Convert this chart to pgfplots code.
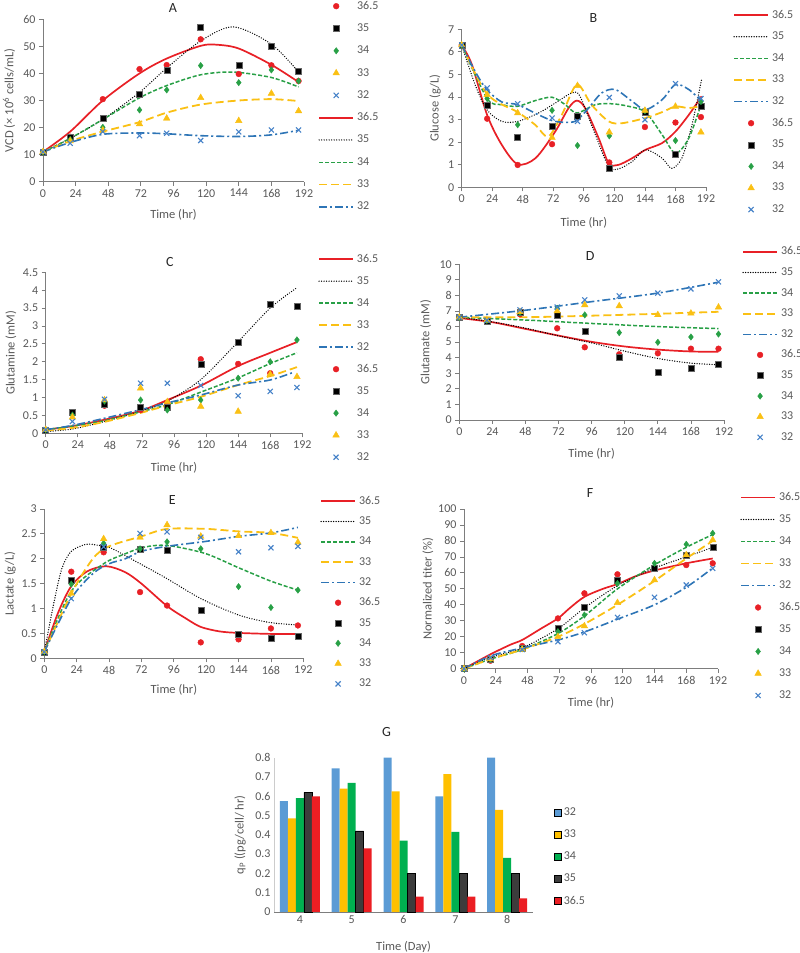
\documentclass[border=0pt]{standalone}
\usepackage{fontspec}
\setmainfont{Carlito}
\usepackage{pgfplots}
\pgfplotsset{compat=1.18}
\usepackage{pgfplotstable}
\definecolor{cR}{RGB}{232,32,38}
\definecolor{cG}{RGB}{40,160,70}
\definecolor{cY}{RGB}{250,192,20}
\definecolor{cB}{RGB}{46,117,182}
\definecolor{cBx}{RGB}{70,130,200}
\definecolor{txt}{RGB}{89,89,89}
\definecolor{axc}{RGB}{125,125,125}
\definecolor{gB}{RGB}{91,155,213}
\definecolor{gY}{RGB}{255,192,0}
\definecolor{gG}{RGB}{0,176,80}
\definecolor{gK}{RGB}{60,60,60}
\definecolor{gR}{RGB}{235,30,35}

\pgfplotsset{
  excel/.style={
    scale only axis, axis lines*=left, clip=false,
    axis line style={axc, line width=0.8pt},
    tick style={axc, line width=0.8pt}, tick align=outside, major tick length=4pt,
    xmin=0, xmax=192, xtick={0,24,...,192}, ymin=0,
    ticklabel style={font=\fontsize{12}{14}\selectfont, text=txt},
    /pgf/number format/assume math mode=true,
    label style={font=\fontsize{12.5}{15}\selectfont, text=txt},
    title style={font=\fontsize{14}{16}\selectfont, text=black!85},
    xlabel={Time (hr)},
    legend cell align=left,
    legend style={draw=none, fill=none, inner sep=0pt, column sep=3pt,
      font=\fontsize{12}{14}\selectfont, text=txt,
      nodes={inner sep=0pt, text height=8.5pt, text depth=2.5pt}},
  },
  mk/.style={only marks, legend image code/.code={\draw[##1] plot coordinates {(17pt,0pt)};}},
  ln/.style={no marks, smooth, legend image code/.code={\draw[##1] (0pt,0pt) -- (34pt,0pt);}},
  pR/.style={mk, mark=*, mark size=2.9pt, color=cR, mark options={solid, fill=cR, draw=cR}},
  pK/.style={mk, mark=square*, mark size=3pt, color=black, mark options={solid, fill=black, draw=black!60}},
  pG/.style={mk, mark=diamond*, mark size=3.2pt, color=cG, mark options={solid, fill=cG, draw=cG}},
  pY/.style={mk, mark=triangle*, mark size=3.8pt, color=cY, mark options={solid, fill=cY, draw=cY}},
  pB/.style={mk, mark=x, mark size=3.6pt, color=cBx, mark options={solid, line width=1.1pt}},
  lR/.style={ln, color=cR, line width=1.7pt, solid},
  lK/.style={ln, color=black, line width=1.4pt, line cap=round, dash pattern=on 0pt off 2.5pt},
  lG/.style={ln, color=cG, line width=1.5pt, dash pattern=on 4pt off 2pt},
  lY/.style={ln, color=cY, line width=1.8pt, dash pattern=on 8pt off 4pt},
  lB/.style={ln, color=cB, line width=1.6pt, dash pattern=on 8pt off 3pt on 2pt off 3pt},
}

% ---------- measured points ----------
\pgfplotstableread{
t   r     k     g     y     b
0   11.0  11.0  11.0  11.0  11.0
20  16.6  16.6  15.6  15.0  14.2
44  30.5  23.4  20.1  19.0  18.5
71  41.6  32.3  26.5  21.3  17.0
91  43.1  41.3  33.9  23.4  17.9
116 52.6  57.0  42.9  31.0  15.2
144 39.8  43.0  36.6  22.5  18.4
168 43.0  50.1  41.3  32.6  19.1
188 37.2  40.9  37.2  26.1  19.1
}\tA
\pgfplotstableread{
t   r     k     g     y     b
0   6.3   6.3   6.3   6.3   6.3
20  3.04  3.63  3.93  4.10  4.40
44  0.99  2.20  2.77  3.29  3.70
71  1.91  2.70  3.41  2.20  3.07
91  3.15  3.17  1.85  4.50  2.92
116 1.10  0.84  2.28  2.44  3.98
144 2.67  3.33  3.39  3.40  2.99
168 2.87  1.47  2.07  3.58  4.59
188 3.11  3.58  3.80  2.44  3.93
}\tB
\pgfplotstableread{
t   r     k     g     y     b
0   0.10  0.10  0.10  0.10  0.10
20  0.58  0.58  0.51  0.45  0.33
44  0.77  0.82  0.90  0.93  0.95
71  0.65  0.72  0.93  1.26  1.40
91  0.86  0.72  0.65  0.88  1.40
116 2.07  1.94  0.93  0.75  1.34
144 1.94  2.56  1.54  0.61  1.05
168 1.68  3.62  2.00  1.65  1.17
188 nan   3.56  2.61  1.58  1.28
}\tC
\pgfplotstableread{
t   r     k     g     y     b
0   6.6   6.6   6.6   6.6   6.6
20  6.4   6.32  6.4   6.4   6.4
44  6.79  6.9   6.9   6.95  7.07
71  5.89  6.75  7.17  7.0   7.25
91  4.67  5.72  6.75  7.39  7.71
116 4.22  4.03  5.61  7.32  7.97
144 4.28  3.10  4.99  6.75  8.15
168 4.58  3.32  5.33  6.85  8.42
188 4.58  3.60  5.52  7.24  8.87
}\tD
\pgfplotstableread{
t   r     k     g     y     b
0   0.13  0.13  0.13  0.13  0.13
20  1.74  1.57  1.49  1.30  1.20
44  2.13  2.23  2.31  2.40  2.24
71  1.33  2.20  2.20  2.43  2.51
91  1.06  2.18  2.34  2.68  2.54
116 0.32  0.96  2.20  2.45  2.43
144 0.38  0.49  1.44  2.46  2.14
168 0.60  0.41  1.02  2.52  2.22
188 0.66  0.45  1.37  2.33  2.25
}\tE
\pgfplotstableread{
t   r     k     g     y     b
0   0     0     0     0     0
20  5     6     6     6     7
44  14.2  12.7  12.5  12    12
71  31.5  25.3  23.2  20    16.9
91  47.2  38.8  33.6  26.7  22.5
116 59.1  55.5  53.4  41.3  32.1
144 62.8  62.8  66    55.5  44.7
168 64.9  70.8  77.9  71.2  52.4
188 66    76    84.8  80.6  62.8
}\tF

\begin{document}
\begin{tikzpicture}
\useasboundingbox (0pt,0pt) rectangle (800pt,953pt);

% ================= A =================
\begin{axis}[excel, at={(43pt,771.3pt)}, anchor=south west, width=261pt, height=162.4pt,
  ymax=60, ytick={0,10,...,60},
  title={A}, title style={at={(axis description cs:0.498,1)}, anchor=center, yshift=5.3pt},
  ylabel={VCD (× 10\textsuperscript{6} cells/mL)},
  ylabel style={at={(axis description cs:-0.13,0.5)}, anchor=center},
  xlabel style={at={(axis description cs:0.5,0)}, anchor=center, yshift=-33pt},
  legend style={at={(axis description cs:1.054,1.1158)}, anchor=north west, row sep=11.3pt}]
\addplot[pR] table[x=t,y=r]{\tA};
\addplot[pK] table[x=t,y=k]{\tA};
\addplot[pG] table[x=t,y=g]{\tA};
\addplot[pY] table[x=t,y=y]{\tA};
\addplot[pB] table[x=t,y=b]{\tA};
\addplot[lR] coordinates {(0,11)(20,18.5)(44,30)(71,40)(91,45.5)(116,50.2)(128,50.6)(144,49.2)(168,43.2)(188,36.8)};
\addplot[lK] coordinates {(0,11)(20,16)(44,23)(71,33)(91,42)(116,52)(140,57.2)(168,50.8)(188,40.5)};
\addplot[lG] coordinates {(0,11)(20,16)(44,23)(71,31)(91,35.5)(116,39.5)(140,40.5)(168,38.5)(188,35)};
\addplot[lY] coordinates {(0,11)(20,15)(44,18.5)(71,22)(91,25.5)(116,28.5)(144,30)(168,30.5)(188,29.8)};
\addplot[lB] coordinates {(0,11)(20,14.5)(44,17.5)(71,18)(91,17.7)(116,17)(144,16.7)(168,17.3)(188,19)};
\legend{36.5,35,34,33,32,36.5,35,34,33,32}
\end{axis}

% ================= B =================
\begin{axis}[excel, at={(461.7pt,765.7pt)}, anchor=south west, width=244.3pt, height=158pt,
  ymax=7, ytick={0,1,...,7},
  title={B}, title style={at={(axis description cs:0.539,1)}, anchor=center, yshift=5.3pt},
  ylabel={Glucose (g/L)},
  ylabel style={at={(axis description cs:-0.109,0.5)}, anchor=center},
  xlabel style={at={(axis description cs:0.5,0)}, anchor=center, yshift=-36pt},
  legend style={at={(axis description cs:1.1105,1.1253)}, anchor=north west, row sep=10.6pt}]
\addplot[lR] coordinates {(0,6.3)(8,5.44)(20,3.2)(31.5,1.88)(44,1.02)(58,1.29)(73.5,2.47)(84,3.51)(90.5,3.84)(97,3.51)(107.6,2.18)(115.5,1.07)(123,0.99)(134,1.29)(144.4,1.66)(157.5,1.96)(168,2.47)(178.5,3.21)(188.5,4.03)};
\addplot[lK] coordinates {(0,6.3)(10.5,4.55)(19.7,3.44)(31.5,2.92)(44,2.92)(60.4,3.29)(73.5,3.73)(86.6,4.18)(93,4.03)(105,2.33)(115.5,0.92)(123,0.81)(134,1.14)(144.4,1.66)(157.5,1.29)(165,0.84)(173,1.29)(181,2.77)(188.5,4.77)};
\addplot[lG] coordinates {(0,6.3)(20,3.93)(31.5,3.66)(44,3.59)(57.7,3.84)(71,3.99)(81.4,3.66)(90.5,3.29)(105,3.66)(118,3.7)(131,3.59)(144.4,3.33)(157.5,2.33)(168,1.51)(178.5,2.18)(188.5,3.73)};
\addplot[lY] coordinates {(0,6.3)(20,4.13)(44,3.33)(57.7,2.77)(68,2.25)(78.7,3.21)(90.5,4.55)(102,3.66)(115.5,2.92)(126,2.84)(144.4,3.07)(157.5,3.33)(168,3.58)(178.5,3.51)(188,3.6)};
\addplot[lB] coordinates {(0,6.3)(10.5,5.14)(19.7,4.33)(31.5,3.78)(44,3.66)(60.4,3.21)(73.5,2.92)(89,2.92)(99.7,3.51)(110,4.18)(120.7,4.33)(134,3.81)(144.4,3.44)(157.5,3.88)(168,4.55)(178.5,4.33)(188.5,3.81)};
\addplot[pR] table[x=t,y=r]{\tB};
\addplot[pK] table[x=t,y=k]{\tB};
\addplot[pG] table[x=t,y=g]{\tB};
\addplot[pY] table[x=t,y=y]{\tB};
\addplot[pB] table[x=t,y=b]{\tB};
\legend{36.5,35,34,33,32,36.5,35,34,33,32}
\end{axis}

% ================= C =================
\begin{axis}[excel, at={(45.7pt,519.7pt)}, anchor=south west, width=256.6pt, height=161pt,
  ymax=4.5, ytick={0,0.5,1,1.5,2,2.5,3,3.5,4,4.5},
  title={C}, title style={at={(axis description cs:0.484,1)}, anchor=center, yshift=4.3pt},
  ylabel={Glutamine (mM)},
  ylabel style={at={(axis description cs:-0.136,0.5)}, anchor=center},
  xlabel style={at={(axis description cs:0.5,0)}, anchor=center, yshift=-34.7pt},
  legend style={at={(axis description cs:1.061,1.1168)}, anchor=north west, row sep=11pt}]
\addplot[lR] coordinates {(0,0.1)(20,0.2)(44,0.38)(71,0.63)(91,0.93)(116,1.33)(144,1.88)(168,2.25)(188,2.55)};
\addplot[lK] coordinates {(0,0.05)(20,0.12)(44,0.33)(71,0.62)(91,0.9)(116,1.5)(144,2.56)(168,3.5)(188,4.07)};
\addplot[lG] coordinates {(0,0.1)(20,0.2)(44,0.35)(71,0.6)(91,0.8)(116,1.15)(144,1.55)(168,1.95)(188,2.25)};
\addplot[lY] coordinates {(0,0.08)(20,0.15)(44,0.32)(71,0.57)(91,0.78)(116,1.02)(144,1.35)(168,1.6)(188,1.85)};
\addplot[lB] coordinates {(0,0.1)(20,0.22)(44,0.42)(71,0.66)(91,0.85)(116,1.07)(144,1.35)(168,1.49)(185,1.7)};
\addplot[pR] table[x=t,y=r]{\tC};
\addplot[pK] table[x=t,y=k]{\tC};
\addplot[pG] table[x=t,y=g]{\tC};
\addplot[pY] table[x=t,y=y]{\tC};
\addplot[pB] table[x=t,y=b]{\tC};
\legend{36.5,35,34,33,32,36.5,35,34,33,32}
\end{axis}

% ================= D =================
\begin{axis}[excel, at={(459.3pt,533pt)}, anchor=south west, width=264.7pt, height=155.7pt,
  ymax=10, ytick={0,1,...,10},
  title={D}, title style={at={(axis description cs:0.494,1)}, anchor=center, yshift=2.3pt},
  ylabel={Glutamate (mM)},
  ylabel style={at={(axis description cs:-0.127,0.5)}, anchor=center},
  xlabel style={at={(axis description cs:0.5,0)}, anchor=center, yshift=-34pt},
  legend style={at={(axis description cs:1.068,1.1162)}, anchor=north west, row sep=9.6pt}]
\addplot[lR] coordinates {(0,6.55)(24,6.28)(48,5.85)(72,5.42)(96,5.02)(120,4.72)(144,4.52)(168,4.4)(188,4.38)};
\addplot[lK] coordinates {(0,6.6)(24,6.3)(48,5.9)(72,5.4)(96,4.95)(120,4.42)(144,3.95)(168,3.65)(188,3.55)};
\addplot[lG] coordinates {(0,6.6)(48,6.42)(96,6.2)(144,6.0)(188,5.87)};
\addplot[lY] coordinates {(0,6.6)(48,6.6)(96,6.7)(144,6.82)(188,6.95)};
\addplot[lB] coordinates {(0,6.6)(48,7.05)(96,7.6)(144,8.15)(188,8.85)};
\addplot[pR] table[x=t,y=r]{\tD};
\addplot[pK] table[x=t,y=k]{\tD};
\addplot[pG] table[x=t,y=g]{\tD};
\addplot[pY] table[x=t,y=y]{\tD};
\addplot[pB] table[x=t,y=b]{\tD};
\legend{36.5,35,34,33,32,36.5,35,34,33,32}
\end{axis}

% ================= E =================
\begin{axis}[excel, at={(44.3pt,294.7pt)}, anchor=south west, width=259pt, height=149.3pt,
  ymax=3, ytick={0,0.5,1,1.5,2,2.5,3},
  title={E}, title style={at={(axis description cs:0.494,1)}, anchor=center, yshift=3pt},
  ylabel={Lactate (g/L)},
  ylabel style={at={(axis description cs:-0.132,0.5)}, anchor=center},
  xlabel style={at={(axis description cs:0.5,0)}, anchor=center, yshift=-31.7pt},
  legend style={at={(axis description cs:1.0645,1.0904)}, anchor=north west, row sep=9.3pt}]
\addplot[lR] coordinates {(0,0.13)(10,0.9)(20,1.45)(32,1.75)(46,1.85)(60,1.73)(72,1.5)(91,1.05)(105,0.8)(116,0.63)(130,0.54)(144,0.51)(168,0.49)(188,0.49)};
\addplot[lK] coordinates {(0,0.13)(7,1.1)(13,1.8)(20,2.15)(31,2.29)(40,2.27)(49,2.22)(71,1.9)(91,1.6)(116,1.2)(144,0.87)(167,0.72)(188,0.67)};
\addplot[lG] coordinates {(0,0.13)(20,1.35)(44,1.9)(60,2.1)(72,2.22)(84,2.27)(96,2.25)(120,2.1)(144,1.82)(168,1.55)(188,1.37)};
\addplot[lY] coordinates {(0,0.13)(20,1.3)(36,2.0)(48,2.25)(72,2.45)(91,2.6)(120,2.6)(144,2.55)(168,2.52)(188,2.42)};
\addplot[lB] coordinates {(0,0.13)(20,1.2)(36,1.7)(48,1.9)(60,2.0)(72,2.15)(91,2.25)(120,2.35)(144,2.45)(168,2.52)(188,2.63)};
\addplot[pR] table[x=t,y=r]{\tE};
\addplot[pK] table[x=t,y=k]{\tE};
\addplot[pG] table[x=t,y=g]{\tE};
\addplot[pY] table[x=t,y=y]{\tE};
\addplot[pB] table[x=t,y=b]{\tE};
\legend{36.5,35,34,33,32,36.5,35,34,33,32}
\end{axis}

% ================= F =================
\begin{axis}[excel, at={(464pt,284.3pt)}, anchor=south west, width=254pt, height=159.7pt,
  ymax=100, ytick={0,10,...,100},
  title={F}, title style={at={(axis description cs:0.496,1)}, anchor=center, yshift=10pt},
  ylabel={Normalized titer (\%)},
  ylabel style={at={(axis description cs:-0.142,0.5)}, anchor=center},
  xlabel style={at={(axis description cs:0.5,0)}, anchor=center, yshift=-34.3pt},
  legend style={at={(axis description cs:1.0866,1.1077)}, anchor=north west, row sep=11pt}]
\addplot[lR] coordinates {(0,0)(20,9)(35,15)(44,18)(58,25)(71,31.5)(80,38)(91,45)(105,50)(116,53)(130,58)(144,61.5)(168,66)(188,69)};
\addplot[lK] coordinates {(0,0)(20,7)(44,13)(71,25)(91,38)(116,52)(144,63)(168,70)(188,76)};
\addplot[lG] coordinates {(0,0)(20,6)(44,12)(71,22)(91,33)(116,50)(144,65)(168,76)(188,84)};
\addplot[lY] coordinates {(0,0)(20,6)(44,12)(71,20)(91,28)(116,40)(144,55)(168,69)(188,80)};
\addplot[lB] coordinates {(0,0)(20,8)(44,13)(71,18)(91,23)(116,31)(144,40)(168,51)(188,63)};
\addplot[pR] table[x=t,y=r]{\tF};
\addplot[pK] table[x=t,y=k]{\tF};
\addplot[pG] table[x=t,y=g]{\tF};
\addplot[pY] table[x=t,y=y]{\tF};
\addplot[pB] table[x=t,y=b]{\tF};
\legend{36.5,35,34,33,32,36.5,35,34,33,32}
\end{axis}

% ================= G =================
\begin{axis}[scale only axis, at={(274pt,41pt)}, anchor=south west, width=259pt, height=154.3pt,
  ybar=0pt, bar width=8pt, xmin=3.5, xmax=8.5, ymin=0, ymax=0.8,
  xtick={4,5,6,7,8}, ytick={0,0.1,0.2,0.3,0.4,0.5,0.6,0.7,0.8},
  axis lines*=left, clip=false,
  x axis line style={axc, line width=0.8pt}, y axis line style={black!20, line width=0.8pt},
  major tick length=0pt,
  ticklabel style={font=\fontsize{12}{14}\selectfont, text=txt},
  /pgf/number format/assume math mode=true,
  label style={font=\fontsize{12.5}{15}\selectfont, text=txt},
  title={G}, title style={font=\fontsize{14}{16}\selectfont, text=black!85, at={(axis description cs:0.435,1)}, anchor=center, yshift=19.7pt},
  xlabel={Time (Day)},
  xlabel style={at={(axis description cs:0.5,0)}, anchor=center, yshift=-34.7pt},
  ylabel={q\textsubscript{P} ((pg/cell/ hr)},
  ylabel style={at={(axis description cs:-0.131,0.5)}, anchor=center},
  legend cell align=left,
  legend image code/.code={\draw[#1] (0pt,-3.5pt) rectangle (7pt,3.5pt);},
  legend style={draw=none, fill=none, inner sep=0pt, column sep=2pt,
    font=\fontsize{12}{14}\selectfont, text=txt,
    nodes={inner sep=0pt, text height=8.5pt, text depth=2.5pt},
    at={(axis description cs:1.081,0.6837)}, anchor=north west, row sep=11.2pt}]
\addplot[fill=gB, draw=none] coordinates {(4,0.575)(5,0.745)(6,0.8)(7,0.6)(8,0.8)};
\addplot[fill=gY, draw=none] coordinates {(4,0.485)(5,0.64)(6,0.625)(7,0.715)(8,0.53)};
\addplot[fill=gG, draw=none] coordinates {(4,0.59)(5,0.67)(6,0.37)(7,0.415)(8,0.28)};
\addplot[fill=gK, draw=black, line width=0.6pt] coordinates {(4,0.62)(5,0.42)(6,0.2)(7,0.2)(8,0.2)};
\addplot[fill=gR, draw=none] coordinates {(4,0.6)(5,0.33)(6,0.08)(7,0.08)(8,0.07)};
\legend{32,33,34,35,36.5}
\end{axis}
\end{tikzpicture}
\end{document}
